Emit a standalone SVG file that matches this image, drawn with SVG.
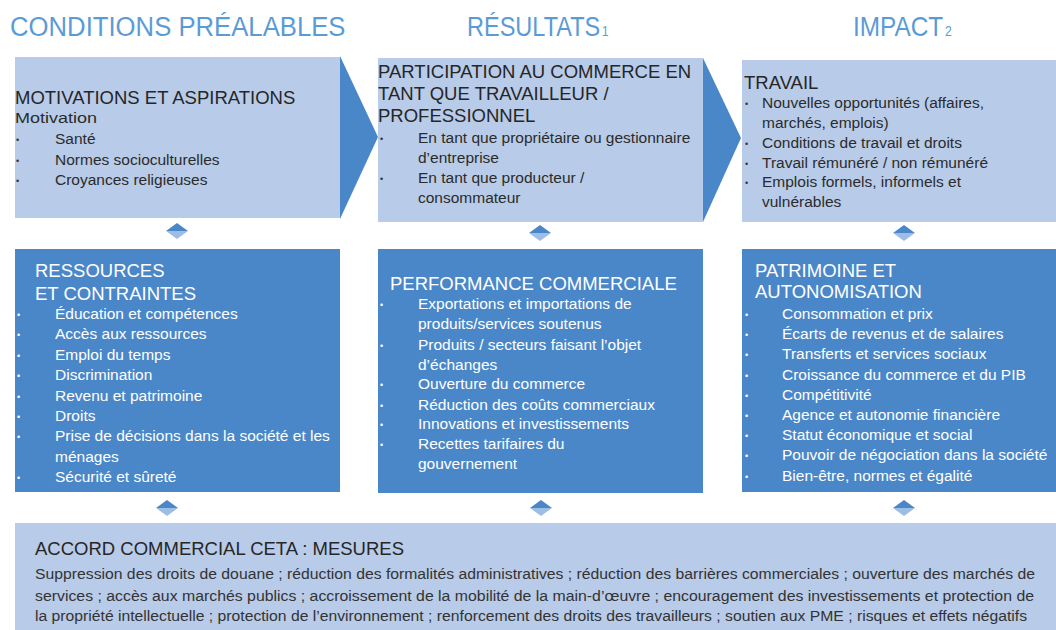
<svg xmlns="http://www.w3.org/2000/svg" width="1056" height="630" viewBox="0 0 1056 630">
  <defs>
    <style>
      text { font-family: "Liberation Sans", Arial, "DejaVu Sans", sans-serif; }
      .head { fill: #5b9bd5; font-size: 28px; }
      .sub { fill: #5b9bd5; font-size: 14px; }
      .light { fill: #b8cbe9; }
      .dark { fill: #4a87c9; }
      .arrow { fill: #4a87c9; }
      .t1 { fill: #262626; font-size: 18.5px; }
      .t2 { fill: #2b2b2b; font-size: 15.5px; }
      .w1 { fill: #ffffff; font-size: 18.5px; }
      .w2 { fill: #ffffff; font-size: 15.5px; }
      .bd { fill: #333333; font-size: 9px; }
      .bw { fill: #ffffff; font-size: 9px; }
      .b1 { fill: #262626; font-size: 18.5px; }
      .b2 { fill: #333333; font-size: 14px; }
    </style>
    <g id="diamond">
      <polygon points="-11,0 0,-8 11,0" fill="#4a87c9"/>
      <polygon points="-11,0 0,8 11,0" fill="#9dbde6"/>
    </g>
  </defs>

  <rect width="1056" height="630" fill="#ffffff"/>

  <!-- column titles (condensed horizontally) -->
  <g id="titles">
    <text class="head" transform="translate(10,36) scale(0.918,1)">CONDITIONS PRÉALABLES</text>
    <text class="head" transform="translate(467,36) scale(0.84,1)">RÉSULTATS<tspan class="sub" dx="2">1</tspan></text>
    <text class="head" transform="translate(853,36) scale(0.87,1)">IMPACT<tspan class="sub" dx="2">2</tspan></text>
  </g>

  <!-- connectors: process chevrons and link diamonds -->
  <g id="connectors">
    <polygon class="arrow" points="340,56 378,137 340,219"/>
    <polygon class="arrow" points="703,58 741,138 703,222"/>
    <use href="#diamond" x="177" y="231"/>
    <use href="#diamond" x="540" y="233"/>
    <use href="#diamond" x="904" y="233"/>
    <use href="#diamond" x="167" y="508"/>
    <use href="#diamond" x="541" y="508"/>
    <use href="#diamond" x="904" y="508"/>
  </g>

  <!-- Motivations et aspirations -->
  <g id="motivations">
    <rect class="light" x="15" y="57" width="325" height="161"/>
    <text class="t1" x="15" y="104">MOTIVATIONS ET ASPIRATIONS</text>
    <text class="t2" x="15" y="123" textLength="82" lengthAdjust="spacingAndGlyphs">Motivation</text>
    <text class="bd" x="16" y="143">•</text><text class="t2" x="55" y="144">Santé</text>
    <text class="bd" x="16" y="164">•</text><text class="t2" x="55" y="165">Normes socioculturelles</text>
    <text class="bd" x="16" y="184">•</text><text class="t2" x="55" y="185">Croyances religieuses</text>
  </g>

  <!-- Participation au commerce -->
  <g id="participation">
    <rect class="light" x="378" y="58" width="325" height="164"/>
    <text class="t1" x="378" y="78">PARTICIPATION AU COMMERCE EN</text>
    <text class="t1" x="378" y="100">TANT QUE TRAVAILLEUR /</text>
    <text class="t1" x="378" y="122">PROFESSIONNEL</text>
    <text class="bd" x="380" y="142">•</text><text class="t2" x="418" y="143">En tant que propriétaire ou gestionnaire</text>
    <text class="t2" x="418" y="163">d’entreprise</text>
    <text class="bd" x="380" y="182">•</text><text class="t2" x="418" y="183">En tant que producteur /</text>
    <text class="t2" x="418" y="203">consommateur</text>
  </g>

  <!-- Travail -->
  <g id="travail">
    <rect class="light" x="742" y="60" width="314" height="162"/>
    <text class="t1" x="744" y="89">TRAVAIL</text>
    <text class="bd" x="745" y="107">•</text><text class="t2" x="762" y="108">Nouvelles opportunités (affaires,</text>
    <text class="t2" x="762" y="128">marchés, emplois)</text>
    <text class="bd" x="745" y="147">•</text><text class="t2" x="762" y="148">Conditions de travail et droits</text>
    <text class="bd" x="745" y="167">•</text><text class="t2" x="762" y="168">Travail rémunéré / non rémunéré</text>
    <text class="bd" x="745" y="186">•</text><text class="t2" x="762" y="187">Emplois formels, informels et</text>
    <text class="t2" x="762" y="207">vulnérables</text>
  </g>

  <!-- Ressources et contraintes -->
  <g id="ressources">
    <rect class="dark" x="15" y="249" width="325" height="243"/>
    <text class="w1" x="35" y="277">RESSOURCES</text>
    <text class="w1" x="35" y="300">ET CONTRAINTES</text>
    <text class="bw" x="17" y="318">•</text><text class="w2" x="55" y="319">Éducation et compétences</text>
    <text class="bw" x="17" y="338">•</text><text class="w2" x="55" y="339">Accès aux ressources</text>
    <text class="bw" x="17" y="359">•</text><text class="w2" x="55" y="360">Emploi du temps</text>
    <text class="bw" x="17" y="379">•</text><text class="w2" x="55" y="380">Discrimination</text>
    <text class="bw" x="17" y="400">•</text><text class="w2" x="55" y="401">Revenu et patrimoine</text>
    <text class="bw" x="17" y="420">•</text><text class="w2" x="55" y="421">Droits</text>
    <text class="bw" x="17" y="440">•</text><text class="w2" x="55" y="441">Prise de décisions dans la société et les</text>
    <text class="w2" x="55" y="462">ménages</text>
    <text class="bw" x="17" y="481">•</text><text class="w2" x="55" y="482">Sécurité et sûreté</text>
  </g>

  <!-- Performance commerciale -->
  <g id="performance">
    <rect class="dark" x="378" y="249" width="325" height="244"/>
    <text class="w1" x="390" y="290">PERFORMANCE COMMERCIALE</text>
    <text class="bw" x="380" y="308">•</text><text class="w2" x="418" y="309">Exportations et importations de</text>
    <text class="w2" x="418" y="329">produits/services soutenus</text>
    <text class="bw" x="380" y="349">•</text><text class="w2" x="418" y="350">Produits / secteurs faisant l’objet</text>
    <text class="w2" x="418" y="370">d’échanges</text>
    <text class="bw" x="380" y="388">•</text><text class="w2" x="418" y="389">Ouverture du commerce</text>
    <text class="bw" x="380" y="409">•</text><text class="w2" x="418" y="410">Réduction des coûts commerciaux</text>
    <text class="bw" x="380" y="428">•</text><text class="w2" x="418" y="429">Innovations et investissements</text>
    <text class="bw" x="380" y="448">•</text><text class="w2" x="418" y="449">Recettes tarifaires du</text>
    <text class="w2" x="418" y="469">gouvernement</text>
  </g>

  <!-- Patrimoine et autonomisation -->
  <g id="patrimoine">
    <rect class="dark" x="742" y="249" width="314" height="243"/>
    <text class="w1" x="755" y="277">PATRIMOINE ET</text>
    <text class="w1" x="755" y="298">AUTONOMISATION</text>
    <text class="bw" x="745" y="318">•</text><text class="w2" x="782" y="319">Consommation et prix</text>
    <text class="bw" x="745" y="338">•</text><text class="w2" x="782" y="339">Écarts de revenus et de salaires</text>
    <text class="bw" x="745" y="358">•</text><text class="w2" x="782" y="359">Transferts et services sociaux</text>
    <text class="bw" x="745" y="379">•</text><text class="w2" x="782" y="380">Croissance du commerce et du PIB</text>
    <text class="bw" x="745" y="399">•</text><text class="w2" x="782" y="400">Compétitivité</text>
    <text class="bw" x="745" y="419">•</text><text class="w2" x="782" y="420">Agence et autonomie financière</text>
    <text class="bw" x="745" y="439">•</text><text class="w2" x="782" y="440">Statut économique et social</text>
    <text class="bw" x="745" y="459">•</text><text class="w2" x="782" y="460">Pouvoir de négociation dans la société</text>
    <text class="bw" x="745" y="480">•</text><text class="w2" x="782" y="481">Bien-être, normes et égalité</text>
  </g>

  <!-- Accord commercial CETA : mesures -->
  <g id="mesures">
    <rect class="light" x="15" y="523" width="1041" height="107"/>
    <text class="b1" x="35" y="555">ACCORD COMMERCIAL CETA : MESURES</text>
    <text class="b2" x="35" y="579" textLength="1000" lengthAdjust="spacingAndGlyphs">Suppression des droits de douane ; réduction des formalités administratives ; réduction des barrières commerciales ; ouverture des marchés de</text>
    <text class="b2" x="35" y="601" textLength="999" lengthAdjust="spacingAndGlyphs">services ; accès aux marchés publics ; accroissement de la mobilité de la main-d’œuvre ; encouragement des investissements et protection de</text>
    <text class="b2" x="35" y="621" textLength="992" lengthAdjust="spacingAndGlyphs">la propriété intellectuelle ; protection de l’environnement ; renforcement des droits des travailleurs ; soutien aux PME ; risques et effets négatifs</text>
  </g>
</svg>
